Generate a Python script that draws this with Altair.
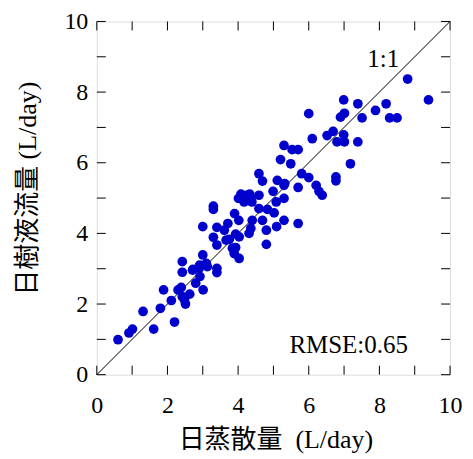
import altair as alt
import pandas as pd

# Daily evapotranspiration (x) vs daily sap flow (y), L/day
evap = [0.60, 0.91, 1.01, 1.31, 1.61, 1.80, 1.89, 2.11, 2.20, 2.30, 2.39, 2.42, 2.48, 2.51,
        2.63, 2.42, 2.42, 2.72, 2.91, 2.80, 2.92, 3.01, 3.00, 3.10, 2.71, 2.90, 3.13,
        3.40, 3.40, 3.00, 3.30, 3.30, 3.30, 3.40, 3.40, 3.61, 3.71, 3.66, 3.90, 4.02,
        3.84, 3.89, 4.03, 3.93, 4.03, 3.75, 3.93,
        4.01, 4.08, 4.22, 4.17, 4.33, 4.39, 4.36,
        4.59, 4.59, 4.69, 4.59, 4.83, 4.40, 4.69, 4.36, 4.31, 4.80, 5.09, 5.30, 5.70,
        4.80, 5.02, 4.99, 5.08, 5.30, 5.11, 5.30, 5.70, 5.80, 6.00, 6.21, 6.29, 6.38,
        5.20, 5.49, 5.30, 5.53, 5.70, 6.10, 6.00, 5.32,
        6.52, 6.69, 6.80, 6.99, 7.01, 7.39, 6.77, 6.77, 7.18, 6.90, 7.01, 6.99, 7.39,
        7.51, 7.89, 8.19, 8.29, 8.50, 8.80, 9.39]
sap = [0.99, 1.18, 1.29, 1.79, 1.29, 1.88, 2.40, 2.10, 1.49, 2.40, 2.47, 2.21, 2.12, 2.00,
       2.28, 2.90, 3.20, 2.98, 3.10, 2.59, 2.78, 2.40, 3.39, 3.15, 2.96, 3.01, 3.06,
       3.01, 2.89, 4.19, 4.77, 4.68, 3.89, 4.17, 3.67, 4.09, 4.28, 3.81, 4.56, 4.37,
       3.58, 3.43, 3.29, 3.98, 3.90, 3.83, 3.60,
       4.99, 5.11, 5.08, 4.89, 5.11, 4.89, 4.96,
       5.08, 5.69, 5.48, 4.70, 4.68, 4.37, 4.37, 4.14, 4.00, 4.09, 4.19, 4.37, 4.28,
       3.69, 4.58, 5.19, 4.89, 4.99, 5.50, 5.36, 5.30, 5.69, 5.58, 5.36, 5.19, 5.08,
       6.09, 5.97, 6.49, 6.37, 6.37, 6.68, 7.39, 5.41,
       6.77, 6.89, 6.59, 6.79, 6.59, 6.59, 5.60, 5.49, 5.97, 7.29, 7.40, 7.78, 7.67,
       7.27, 7.48, 7.67, 7.27, 7.27, 8.37, 7.78]

tick_vals = list(range(0, 11))
label_vals = [0, 2, 4, 6, 8, 10]
line_vals = [0, 10]
note_x = [8.11, 7.13]
note_y = [8.93, 0.85]
note_text = ["1:1", "RMSE:0.65"]

W = H = 354
FONT = "Liberation Serif"
TFONT = "Liberation Serif, Noto Sans CJK JP"

pts = pd.DataFrame({"x": evap, "y": sap})
ticks = pd.DataFrame({"t": tick_vals})
line = pd.DataFrame({"x": line_vals, "y": line_vals})
notes = pd.DataFrame({"x": note_x, "y": note_y, "label": note_text})

xs = alt.Scale(domain=[0, 10], nice=False, zero=False)
ys = alt.Scale(domain=[0, 10], nice=False, zero=False)

xaxis = alt.Axis(title="日蒸散量\u00a0\u00a0(L/day)", values=label_vals, ticks=False, domain=False,
                 grid=False, labelFont=FONT, labelFontSize=24, labelPadding=19,
                 labelFlush=False, labelOverlap=False,
                 labelColor="black", titleFont=TFONT, titleFontSize=26, titleFontWeight="normal",
                 titleColor="black", titleX=179, titleY=65, titleBaseline="middle",
                 titleAlign="center")
yaxis = alt.Axis(title="日樹液流量 (L/day)", values=label_vals, ticks=False, domain=False,
                 grid=False, labelFont=FONT, labelFontSize=24, labelPadding=9,
                 labelFlush=False, labelOverlap=False,
                 labelColor="black", titleFont=TFONT, titleFontSize=26, titleFontWeight="normal",
                 titleColor="black", titleX=-69, titleY=167, titleBaseline="middle",
                 titleAlign="center", titleAngle=-90)

X = lambda f: alt.X(f, type="quantitative", scale=xs, axis=xaxis)
Y = lambda f: alt.Y(f, type="quantitative", scale=ys, axis=yaxis)

diag = alt.Chart(line).mark_line(color="black", strokeWidth=1).encode(x=X("x"), y=Y("y"))
dots = alt.Chart(pts).mark_circle(size=95, color="#0000cc", opacity=1).encode(x=X("x"), y=Y("y"))

TL = 9
tb = alt.Chart(ticks).mark_rule(color="black", strokeWidth=1).encode(
    x=X("t"), y=alt.value(H), y2=alt.value(H - TL))
tt = alt.Chart(ticks).mark_rule(color="black", strokeWidth=1).encode(
    x=X("t"), y=alt.value(0), y2=alt.value(TL))
tl = alt.Chart(ticks).mark_rule(color="black", strokeWidth=1).encode(
    y=Y("t"), x=alt.value(0), x2=alt.value(TL))
tr = alt.Chart(ticks).mark_rule(color="black", strokeWidth=1).encode(
    y=Y("t"), x=alt.value(W), x2=alt.value(W - TL))

txt = alt.Chart(notes).mark_text(font=FONT, fontSize=25, color="black",
                                 baseline="middle", align="center").encode(
    x=X("x"), y=Y("y"), text="label:N")

chart = alt.layer(diag, dots, tb, tt, tl, tr, txt).properties(
    width=W, height=H,
    autosize=alt.AutoSizeParams(type="none"),
    padding={"left": 89, "top": 13, "right": 15, "bottom": 82},
).configure_view(stroke="black", strokeWidth=1.5).configure(background="white")

chart.save("out.html", embed_options={"renderer": "svg", "actions": False})
